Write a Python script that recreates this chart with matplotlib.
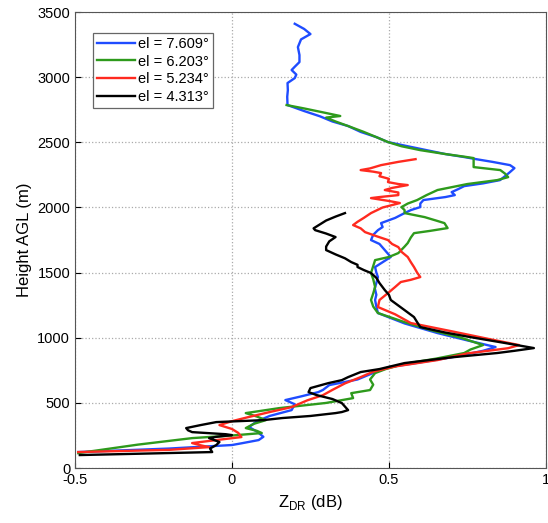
import numpy as np
import matplotlib
matplotlib.use("Agg")
import matplotlib.pyplot as plt

plt.rcParams['font.family'] = ['Liberation Sans', 'DejaVu Sans']
plt.rcParams['mathtext.fontset'] = 'custom'
plt.rcParams['mathtext.rm'] = 'Liberation Sans'

# profils ZDR (dB) en fonction de la hauteur (m)
h_7609 = [3410, 3370, 3331, 3290, 3231, 3170, 3116, 3080, 3055, 3020, 2993, 2955, 2900, 2850,
          2786, 2740, 2700, 2660, 2625, 2580, 2540, 2502, 2470, 2440, 2410, 2387, 2370, 2350,
          2325, 2302, 2272, 2240, 2210, 2185, 2164, 2140, 2118, 2095, 2080, 2057, 2030, 2003,
          1980, 1957, 1920, 1880, 1850, 1826, 1790, 1750, 1720, 1673, 1620, 1580, 1543, 1500,
          1466, 1420, 1380, 1330, 1290, 1240, 1190, 1110, 1036, 980, 929, 900, 850, 800, 775,
          730, 680, 637, 600, 583, 550, 522, 490, 445, 400, 360, 315, 280, 240, 215, 190, 177,
          150, 123]
z_7609 = [0.20, 0.23, 0.25, 0.22, 0.21, 0.215, 0.215, 0.20, 0.19, 0.205, 0.20, 0.177, 0.178, 0.176,
          0.177, 0.23, 0.28, 0.32, 0.37, 0.41, 0.46, 0.497, 0.56, 0.62, 0.68, 0.74, 0.78, 0.83,
          0.886, 0.90, 0.886, 0.87, 0.854, 0.80, 0.74, 0.72, 0.70, 0.71, 0.68, 0.61, 0.60, 0.60,
          0.57, 0.55, 0.52, 0.475, 0.48, 0.465, 0.45, 0.443, 0.47, 0.487, 0.506, 0.48, 0.456, 0.46,
          0.465, 0.46, 0.455, 0.46, 0.456, 0.46, 0.465, 0.55, 0.655, 0.75, 0.84, 0.80, 0.70, 0.57, 0.50,
          0.45, 0.40, 0.31, 0.29, 0.275, 0.22, 0.17, 0.20, 0.19, 0.12, 0.08, 0.054, 0.08, 0.10, 0.085, 0.03, 0.0,
          -0.2, -0.49]

h_6203 = [2786, 2760, 2730, 2702, 2690, 2660, 2625, 2580, 2540, 2502, 2470, 2440, 2410, 2390,
          2379, 2340, 2310, 2287, 2260, 2233, 2210, 2180, 2134, 2095, 2057, 2030, 2003, 1980,
          1957, 1926, 1900, 1880, 1842, 1820, 1803, 1770, 1727, 1700, 1650, 1620, 1596, 1550,
          1497, 1450, 1390, 1340, 1290, 1240, 1190, 1120, 1059, 1000, 944, 910, 883, 840, 800,
          760, 729, 680, 640, 599, 575, 537, 500, 460, 422, 395, 368, 340, 307, 285, 269, 250,
          230, 180, 115]
z_6203 = [0.174, 0.23, 0.29, 0.345, 0.30, 0.33, 0.37, 0.42, 0.46, 0.497, 0.54, 0.60, 0.68, 0.74,
          0.77, 0.77, 0.77, 0.855, 0.87, 0.88, 0.845, 0.75, 0.655, 0.62, 0.59, 0.56, 0.54, 0.55,
          0.55, 0.614, 0.65, 0.677, 0.687, 0.63, 0.58, 0.57, 0.56, 0.55, 0.53, 0.50, 0.456, 0.45,
          0.443, 0.45, 0.456, 0.45, 0.443, 0.45, 0.465, 0.55, 0.633, 0.73, 0.80, 0.76, 0.74, 0.65, 0.55,
          0.49, 0.456, 0.44, 0.45, 0.44, 0.38, 0.386, 0.30, 0.15, 0.044, 0.08, 0.108, 0.07, 0.044, 0.08, 0.095, 0.0,
          -0.127, -0.3, -0.49]

h_5234 = [2371, 2350, 2325, 2300, 2287, 2275, 2264, 2240, 2220, 2195, 2180, 2172, 2150, 2134,
          2115, 2095, 2080, 2072, 2050, 2034, 2000, 1957, 1920, 1890, 1865, 1840, 1811, 1780,
          1750, 1720, 1696, 1660, 1620, 1580, 1543, 1500, 1466, 1445, 1428, 1390, 1343, 1290,
          1236, 1180, 1113, 1050, 990, 944, 920, 880, 829, 780, 740, 698, 650, 600, 560, 520,
          468, 430, 390, 360, 330, 300, 270, 238, 215, 192, 175, 161, 140, 123]
z_5234 = [0.585, 0.53, 0.475, 0.44, 0.41, 0.45, 0.475, 0.47, 0.50, 0.497, 0.53, 0.56, 0.51, 0.487,
          0.53, 0.53, 0.47, 0.443, 0.50, 0.535, 0.48, 0.443, 0.42, 0.40, 0.386, 0.41, 0.424, 0.46,
          0.497, 0.51, 0.53, 0.54, 0.56, 0.57, 0.58, 0.59, 0.60, 0.57, 0.538, 0.52, 0.497, 0.47,
          0.465, 0.52, 0.57, 0.70, 0.82, 0.915, 0.88, 0.75, 0.655, 0.52, 0.45, 0.41, 0.36, 0.32, 0.29, 0.24,
          0.19, 0.12, 0.05, 0.0, -0.04, 0.0, 0.02, 0.03, -0.05, -0.127, -0.1, -0.073, -0.2, -0.49]

h_4313 = [1957, 1930, 1900, 1870, 1840, 1826, 1800, 1773, 1740, 1700, 1673, 1640, 1610, 1581,
          1560, 1543, 1520, 1497, 1460, 1420, 1366, 1330, 1290, 1230, 1159, 1120, 1082, 1040,
          1005, 960, 921, 900, 883, 850, 806, 760, 737, 698, 675, 652, 614, 583, 560, 530, 499,
          445, 430, 422, 400, 384, 368, 353, 330, 307, 290, 276, 260, 253, 240, 230, 200, 177,
          150, 123, 110, 100]
z_4313 = [0.36, 0.33, 0.30, 0.28, 0.26, 0.265, 0.30, 0.33, 0.31, 0.30, 0.30, 0.33, 0.36, 0.38,
          0.40, 0.40, 0.42, 0.443, 0.46, 0.47, 0.487, 0.50, 0.506, 0.54, 0.58, 0.59, 0.60, 0.68,
          0.76, 0.87, 0.962, 0.90, 0.845, 0.70, 0.55, 0.47, 0.41, 0.37, 0.35, 0.307, 0.25, 0.244, 0.27, 0.32, 0.35,
          0.37, 0.35, 0.33, 0.25, 0.16, 0.10, -0.05, -0.10, -0.146, -0.14, -0.127, -0.02, 0.0, -0.05, -0.073, -0.04, -0.05,
          -0.07, -0.063, -0.3, -0.485]

labels = ['el = 7.609°', 'el = 6.203°', 'el = 5.234°', 'el = 4.313°']
couleurs = ['#1f4cff', '#2e9a1c', '#ff2a1f', '#000000']

fig = plt.figure(figsize=(5.48, 5.23), dpi=100)
ax = fig.add_axes([0.137, 0.105, 0.859, 0.872])

profils = [(z_7609, h_7609), (z_6203, h_6203), (z_5234, h_5234), (z_4313, h_4313)]
for (z, h), lab, c in zip(profils, labels, couleurs):
    ax.plot(z, h, color=c, lw=1.7, label=lab)

ax.set_xlim(-0.5, 1)
ax.set_ylim(0, 3500)
ax.set_xticks([-0.5, 0, 0.5, 1])
ax.set_xticklabels(['-0.5', '0', '0.5', '1'])
ax.set_yticks(np.arange(0, 3501, 500))
ax.tick_params(direction='in', labelsize=10.5, length=4)
ax.grid(True, linestyle=':', color='#aaaaaa', lw=0.9)
for s in ax.spines.values():
    s.set_color('#555555')

ax.set_xlabel(r'Z$_{\mathrm{DR}}$ (dB)', fontsize=12)
ax.set_ylabel('Height AGL (m)', fontsize=12)

leg = ax.legend(loc='upper left', bbox_to_anchor=(0.038, 0.955), borderaxespad=0,
                fancybox=False, edgecolor='#666666', fontsize=10.5, handlelength=2.6,
                handletextpad=0.2, borderpad=0.3, labelspacing=0.25, framealpha=1)
leg.get_frame().set_linewidth(0.9)

fig.savefig('out.png', dpi=100)
